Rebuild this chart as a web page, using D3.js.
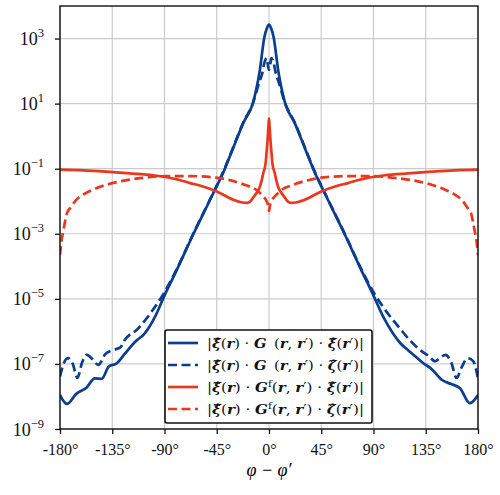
<!DOCTYPE html>
<html>
<head>
<meta charset="utf-8">
<script src="https://cdn.jsdelivr.net/npm/d3@7"></script>
<style>
  body { margin: 0; background: #fff; }
  svg { font-family: "DejaVu Serif", "Liberation Serif", serif; }
</style>
</head>
<body>
<div id="chart"></div>
<script>
// angles (deg) and magnitudes
const blueSolidDeg = [-180,-174,-166,-157,-150,-144,-138,-131,-124,-115,-107,-98,-90,-80,-65,-50,-38,-31,-22,-14,-8,-4,-2,0,
  2,4,8,14,22,31,38,50,65,80,90,98,107,113,120,127,133,140,149,157,164.5,173,180];
const blueSolidVal = [1.1e-8,5.9e-9,1.2e-8,1.9e-8,3.6e-8,3.5e-8,8.3e-8,1.05e-7,2.1e-7,4.9e-7,8.7e-7,2.9e-6,1.26e-5,7e-5,1e-3,1.26e-2,0.1,0.42,2.6,10,100,1100,2000,2700,
  2000,1100,100,10,2.6,0.42,0.1,1.26e-2,1e-3,7e-5,1.26e-5,3e-6,8.5e-7,4.4e-7,2.6e-7,1.6e-7,1.05e-7,7e-8,3.2e-8,2.4e-8,1.8e-8,6.2e-9,1.1e-8];

const blueDashDeg = [-180,-177,-173,-169,-165,-161,-157,-152,-147,-141,-134,-128,-125,-113,-98,-91,-80,-65,-50,-38,-31,-22,-14,-8,-6,-4,-2,-1,0,
  1,2,4,6,8,14,22,31,38,50,65,80,91,98,113,122,130,138,143,147,152,157,161.5,166,171,176,180];
const blueDashVal = [4.1e-8,1e-7,1.5e-7,1e-7,3.7e-8,1.1e-7,1.9e-7,1.4e-7,9.3e-8,2e-7,2.7e-7,3.2e-7,5e-7,1.2e-6,5.8e-6,1.4e-5,7.5e-5,1.05e-3,1.3e-2,0.105,0.44,2.7,10,50,80,180,250,160,110,
  160,250,180,80,50,10,2.7,0.44,0.105,1.3e-2,1.05e-3,7.5e-5,1.4e-5,5.8e-6,1.2e-6,5e-7,2.7e-7,1.7e-7,1.2e-7,1.5e-7,1.9e-7,1.1e-7,3.7e-8,8e-8,1.5e-7,1.2e-7,3.5e-8];

const redSolidDeg = [-180,-160,-140,-120,-100,-90,-80,-68,-59,-45,-31,-24,-19,-16,-13.5,-10.6,-8,-6.3,-4.9,-3,-2,-1,-0.5,0,
  0.5,1,2,3,4.9,6.3,8,10.6,13.5,16,19,24,31,45,59,68,80,90,100,120,140,160,180];
const redSolidVal = [0.093,0.089,0.081,0.072,0.063,0.056,0.048,0.036,0.030,0.020,0.0112,0.0093,0.0089,0.010,0.0132,0.0182,0.0269,0.0437,0.074,0.141,0.355,1.0,2.0,3.5,
  2.0,1.0,0.355,0.141,0.074,0.0437,0.0269,0.0182,0.0132,0.010,0.0089,0.0093,0.0112,0.020,0.030,0.036,0.048,0.056,0.063,0.072,0.081,0.089,0.093];

const redDashDeg = [-180,-179,-177,-174,-171,-166,-160,-150,-140,-125,-111,-88,-68,-50,-38,-21,-10.6,-5,-2,-1,-0.3,0,
  0.3,1,2,5,10.6,21,38,50,68,88,111,125,140,150,160,166,171,174,177,179,180];
const redDashVal = [2.2e-4,5e-4,1.3e-3,4.3e-3,6.3e-3,1.1e-2,1.6e-2,2.4e-2,3.2e-2,4.3e-2,5.1e-2,5.9e-2,5.9e-2,5.5e-2,4.8e-2,3.2e-2,2.2e-2,1.4e-2,1e-2,7.9e-3,5.6e-3,5e-3,
  5.6e-3,7.9e-3,1e-2,1.4e-2,2.2e-2,3.2e-2,4.8e-2,5.5e-2,5.9e-2,5.9e-2,5.1e-2,4.3e-2,3.2e-2,2.4e-2,1.6e-2,1.1e-2,6.3e-3,4.3e-3,1.3e-3,5e-4,2.2e-4];

const xTicks = [-180,-135,-90,-45,0,45,90,135,180];
const yTickExps = [-9,-7,-5,-3,-1,1,3];

// legend labels: [text, 0 normal / 1 bold italic / 2 superscript]
const legendLabels = [
  [["|",0],["ξ̂",1],["(",0],["r",1],[")",0],[" · ",0],["G",1],["\u2009 (",0],["r",1],[", ",0],["r",1],["′",0],[") · ",0],["ξ̂",1],["(",0],["r",1],["′",0],[")|",0]],
  [["|",0],["ξ̂",1],["(",0],["r",1],[")",0],[" · ",0],["G",1],["\u2009 (",0],["r",1],[", ",0],["r",1],["′",0],[") · ",0],["ζ̂",1],["(",0],["r",1],["′",0],[")|",0]],
  [["|",0],["ξ̂",1],["(",0],["r",1],[")",0],[" · ",0],["G",1],["f",2],["(",0],["r",1],[", ",0],["r",1],["′",0],[") · ",0],["ξ̂",1],["(",0],["r",1],["′",0],[")|",0]],
  [["|",0],["ξ̂",1],["(",0],["r",1],[")",0],[" · ",0],["G",1],["f",2],["(",0],["r",1],[", ",0],["r",1],["′",0],[") · ",0],["ζ̂",1],["(",0],["r",1],["′",0],[")|",0]]
];

const blue = "#0b3e8e", red = "#e8381f";
const series = [
  {deg: blueSolidDeg, val: blueSolidVal, color: blue, dash: null},
  {deg: blueDashDeg, val: blueDashVal, color: blue, dash: "9,4.5"},
  {deg: redSolidDeg, val: redSolidVal, color: red, dash: null},
  {deg: redDashDeg, val: redDashVal, color: red, dash: "9,4.5"}
];

const W = 500, H = 495;
const margin = {top: 6, right: 22, bottom: 66, left: 60};
const width = W - margin.left - margin.right;
const height = H - margin.top - margin.bottom;

const svg = d3.select("#chart").append("svg")
  .attr("width", W).attr("height", H);
const g = svg.append("g").attr("transform", "translate(" + margin.left + "," + margin.top + ")");

const x = d3.scaleLinear().domain([-180, 180]).range([0, width]);
const y = d3.scaleLog().domain([1e-9, 1e4]).range([height, 0]);

// grid
g.selectAll(".gx").data(xTicks).enter().append("line")
  .attr("x1", d => x(d)).attr("x2", d => x(d)).attr("y1", 0).attr("y2", height)
  .attr("stroke", "#cbcbcb").attr("stroke-width", 1.2);
g.selectAll(".gy").data(yTickExps).enter().append("line")
  .attr("x1", 0).attr("x2", width).attr("y1", d => y(Math.pow(10, d))).attr("y2", d => y(Math.pow(10, d)))
  .attr("stroke", "#cbcbcb").attr("stroke-width", 1.2);

g.append("clipPath").attr("id", "clip").append("rect").attr("width", width).attr("height", height);

const line = d3.line()
  .x(d => x(d[0])).y(d => y(d[1]))
  .curve(d3.curveMonotoneX);

const plot = g.append("g").attr("clip-path", "url(#clip)");
series.forEach(s => {
  plot.append("path")
    .datum(s.deg.map((d, i) => [d, s.val[i]]))
    .attr("d", line)
    .attr("fill", "none")
    .attr("stroke", s.color)
    .attr("stroke-width", 2.7)
    .attr("stroke-linejoin", "round")
    .attr("stroke-dasharray", s.dash);
});

// frame
g.append("rect").attr("width", width).attr("height", height)
  .attr("fill", "none").attr("stroke", "#111").attr("stroke-width", 1.4);

// x axis
const xAxis = g.append("g").attr("transform", "translate(0," + height + ")")
  .call(d3.axisBottom(x).tickValues(xTicks).tickSize(5).tickFormat(d => String(d) + "°"));
xAxis.select(".domain").remove();
xAxis.selectAll("line").attr("stroke", "#111").attr("stroke-width", 1.3);
xAxis.selectAll("text").attr("fill", "#111").attr("dy", "1.15em")
  .attr("font-family", "'Liberation Serif', serif").style("font-size", "16px");

// y axis
const yAxis = g.append("g")
  .call(d3.axisLeft(y).tickValues(yTickExps.map(e => Math.pow(10, e))).tickSize(5).tickFormat(""));
yAxis.select(".domain").remove();
yAxis.selectAll("line").attr("stroke", "#111").attr("stroke-width", 1.3);
yAxis.selectAll(".tick").each(function(d) {
  const e = Math.round(Math.log10(d));
  const t = d3.select(this).append("text")
    .attr("x", -16).attr("y", 6).attr("text-anchor", "end")
    .attr("fill", "#111").attr("font-family", "'Liberation Serif', serif").style("font-size", "18px");
  t.append("tspan").text("10");
  t.append("tspan").attr("dy", -8).style("font-size", "12.5px").text(String(e).replace("-", "−"));
});

// x label
g.append("text")
  .attr("x", x(0)).attr("y", height + 47)
  .attr("text-anchor", "middle")
  .attr("font-family", "'Liberation Serif', serif")
  .style("font-size", "18px").style("font-style", "italic")
  .text("φ − φ′");

// legend
const lg = svg.append("g").attr("transform", "translate(165,330)");
lg.append("rect").attr("width", 207).attr("height", 93).attr("rx", 2)
  .attr("fill", "#fff").attr("stroke", "#111").attr("stroke-width", 1.6);
legendLabels.forEach((parts, i) => {
  const yy = 13 + i * 22;
  lg.append("line").attr("x1", 3).attr("x2", 33).attr("y1", yy).attr("y2", yy)
    .attr("stroke", series[i].color).attr("stroke-width", 2.7)
    .attr("stroke-dasharray", series[i].dash);
  const t = lg.append("text").attr("x", 42).attr("y", yy + 4.5)
    .style("font-size", "13px").attr("fill", "#111")
    .attr("textLength", 157).attr("lengthAdjust", "spacingAndGlyphs");
  let shifted = false;
  parts.forEach(p => {
    const ts = t.append("tspan").text(p[0]);
    if (p[1] === 1) ts.style("font-weight", "bold").style("font-style", "italic");
    if (p[1] === 2) { ts.attr("dy", -5).style("font-size", "9px"); shifted = true; }
    else if (shifted) { ts.attr("dy", 5); shifted = false; }
  });
});
</script>
</body>
</html>
